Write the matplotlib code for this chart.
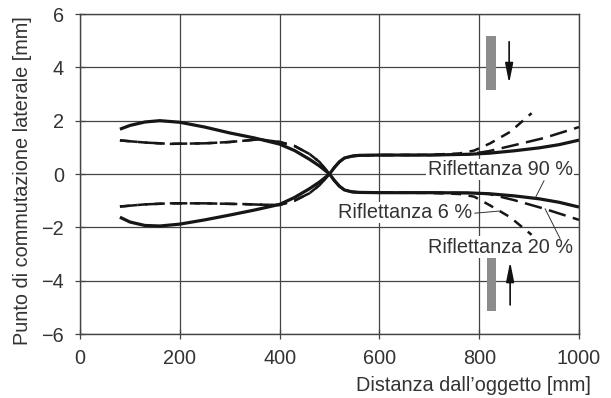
import matplotlib
matplotlib.use('Agg')
import matplotlib.pyplot as plt
from matplotlib.patches import Rectangle

# Reflectance 90 % (solid), two mirrored branches
dist_90 = [80, 100, 130, 160, 200, 250, 300, 350, 400, 430, 460, 480, 500, 510, 520, 530, 545, 560, 600, 700, 780, 820, 870, 920, 960, 1000]
r90_a = [1.68, 1.82, 1.95, 2.0, 1.94, 1.76, 1.54, 1.35, 1.12, 0.88, 0.55, 0.3, 0.0, -0.25, -0.46, -0.6, -0.67, -0.69, -0.7, -0.7, -0.71, -0.74, -0.82, -0.93, -1.06, -1.24]
r90_b = [-1.62, -1.8, -1.93, -1.95, -1.88, -1.72, -1.54, -1.35, -1.14, -0.88, -0.55, -0.3, 0.0, 0.25, 0.46, 0.6, 0.67, 0.7, 0.71, 0.71, 0.74, 0.78, 0.87, 0.98, 1.1, 1.27]

# Reflectance 20 % (long dash)
dist_20 = [80, 130, 180, 250, 300, 330, 360, 400, 430, 460, 480, 500, 510, 520, 530, 545, 560, 600, 700, 780, 820, 870, 930, 1000]
r20_a = [1.26, 1.18, 1.13, 1.15, 1.2, 1.25, 1.3, 1.2, 1.05, 0.75, 0.45, 0.0, -0.25, -0.46, -0.6, -0.67, -0.69, -0.7, -0.7, -0.71, -0.75, -0.98, -1.3, -1.72]
r20_b = [-1.22, -1.14, -1.1, -1.1, -1.12, -1.13, -1.15, -1.16, -1.0, -0.72, -0.42, 0.0, 0.25, 0.46, 0.6, 0.67, 0.7, 0.71, 0.71, 0.74, 0.86, 1.08, 1.35, 1.76]

# Reflectance 6 % (short dash)
dist_6 = [80, 130, 180, 250, 300, 330, 360, 400, 430, 460, 480, 500, 510, 520, 530, 545, 560, 600, 700, 760, 790, 822, 862, 905]
r6_a = [1.26, 1.18, 1.13, 1.15, 1.2, 1.25, 1.3, 1.2, 1.05, 0.75, 0.45, 0.0, -0.25, -0.46, -0.6, -0.67, -0.69, -0.7, -0.71, -0.75, -0.85, -1.18, -1.62, -2.28]
r6_b = [-1.22, -1.14, -1.1, -1.1, -1.12, -1.13, -1.15, -1.16, -1.0, -0.72, -0.42, 0.0, 0.25, 0.46, 0.6, 0.67, 0.7, 0.71, 0.72, 0.77, 0.88, 1.15, 1.58, 2.28]

xticks = [0, 200, 400, 600, 800, 1000]
yticks = [-6, -4, -2, 0, 2, 4, 6]

plt.rcParams['font.family'] = ['Liberation Sans', 'DejaVu Sans']
txt = '#333333'
gridc = '#444444'
fs = 14.3

fig = plt.figure(figsize=(6.11, 3.98), dpi=100)
ax = fig.add_axes([80/611, 64/398, 499/611, 320/398])

ax.set_xlim(0, 1000)
ax.set_ylim(-6, 6)
ax.set_xticks(xticks)
ax.set_yticks(yticks)
ax.set_yticklabels([str(v).replace('-', '\u2212') for v in yticks])
ax.grid(True, color=gridc, lw=0.9)
ax.set_axisbelow(True)
for s in ax.spines.values():
    s.set_color(gridc)
    s.set_linewidth(1.0)
ax.tick_params(direction='inout', length=7, width=0.9, color=gridc,
               labelsize=fs, labelcolor=txt)
ax.tick_params(axis='y', pad=8)
ax.tick_params(axis='x', pad=7)

lc = '#161616'
ax.plot(dist_90, r90_a, color=lc, lw=2.3, solid_capstyle='butt', zorder=4)
ax.plot(dist_90, r90_b, color=lc, lw=2.3, solid_capstyle='butt', zorder=4)
ax.plot(dist_20, r20_a, color=lc, lw=1.8, dashes=(7, 3), zorder=3)
ax.plot(dist_20, r20_b, color=lc, lw=1.8, dashes=(7, 3), zorder=3)
ax.plot(dist_6, r6_a, color=lc, lw=1.8, dashes=(4, 3), zorder=3)
ax.plot(dist_6, r6_b, color=lc, lw=1.8, dashes=(4, 3), zorder=3)

# sensor symbols
ax.add_patch(Rectangle((814, 3.15), 19, 2.02, color='#8c8c8c', lw=0, zorder=5))
ax.add_patch(Rectangle((815, -5.13), 19, 2.03, color='#8c8c8c', lw=0, zorder=5))
arr = dict(arrowstyle='-|>,head_length=0.85,head_width=0.17', color='#111111', lw=1.2,
           shrinkA=0, shrinkB=0, mutation_scale=14)
ax.annotate('', xy=(860, 3.4), xytext=(860, 4.96), arrowprops=arr, zorder=6)
ax.annotate('', xy=(862, -3.29), xytext=(862, -4.91), arrowprops=arr, zorder=6)

# labels with leader lines
box = dict(facecolor='white', edgecolor='none', pad=1.0)
lead = dict(arrowstyle='-', color='#333333', lw=0.7, shrinkA=0, shrinkB=0)
ax.text(987, 0.17, 'Riflettanza 90 %', ha='right', va='center', fontsize=fs,
        color=txt, bbox=box, zorder=7)
ax.annotate('', xy=(912, -0.91), xytext=(930, -0.25), arrowprops=lead, zorder=7)
ax.text(785, -1.44, 'Riflettanza 6 %', ha='right', va='center', fontsize=fs,
        color=txt, bbox=box, zorder=7)
ax.annotate('', xy=(840, -1.39), xytext=(791, -1.47), arrowprops=lead, zorder=7)
ax.text(987, -2.74, 'Riflettanza 20 %', ha='right', va='center', fontsize=fs,
        color=txt, bbox=box, zorder=7)
ax.annotate('', xy=(932, -1.3), xytext=(962, -2.42), arrowprops=lead, zorder=7)

ax.set_xlabel('Distanza dall\u2019oggetto [mm]', fontsize=fs, color=txt, ha='right')
ax.xaxis.set_label_coords(1.024, -0.13)
ax.set_ylabel('Punto di commutazione laterale [mm]', fontsize=fs, color=txt)
ax.yaxis.set_label_coords(-0.097, 0.478)

fig.savefig('out.png', dpi=100)
